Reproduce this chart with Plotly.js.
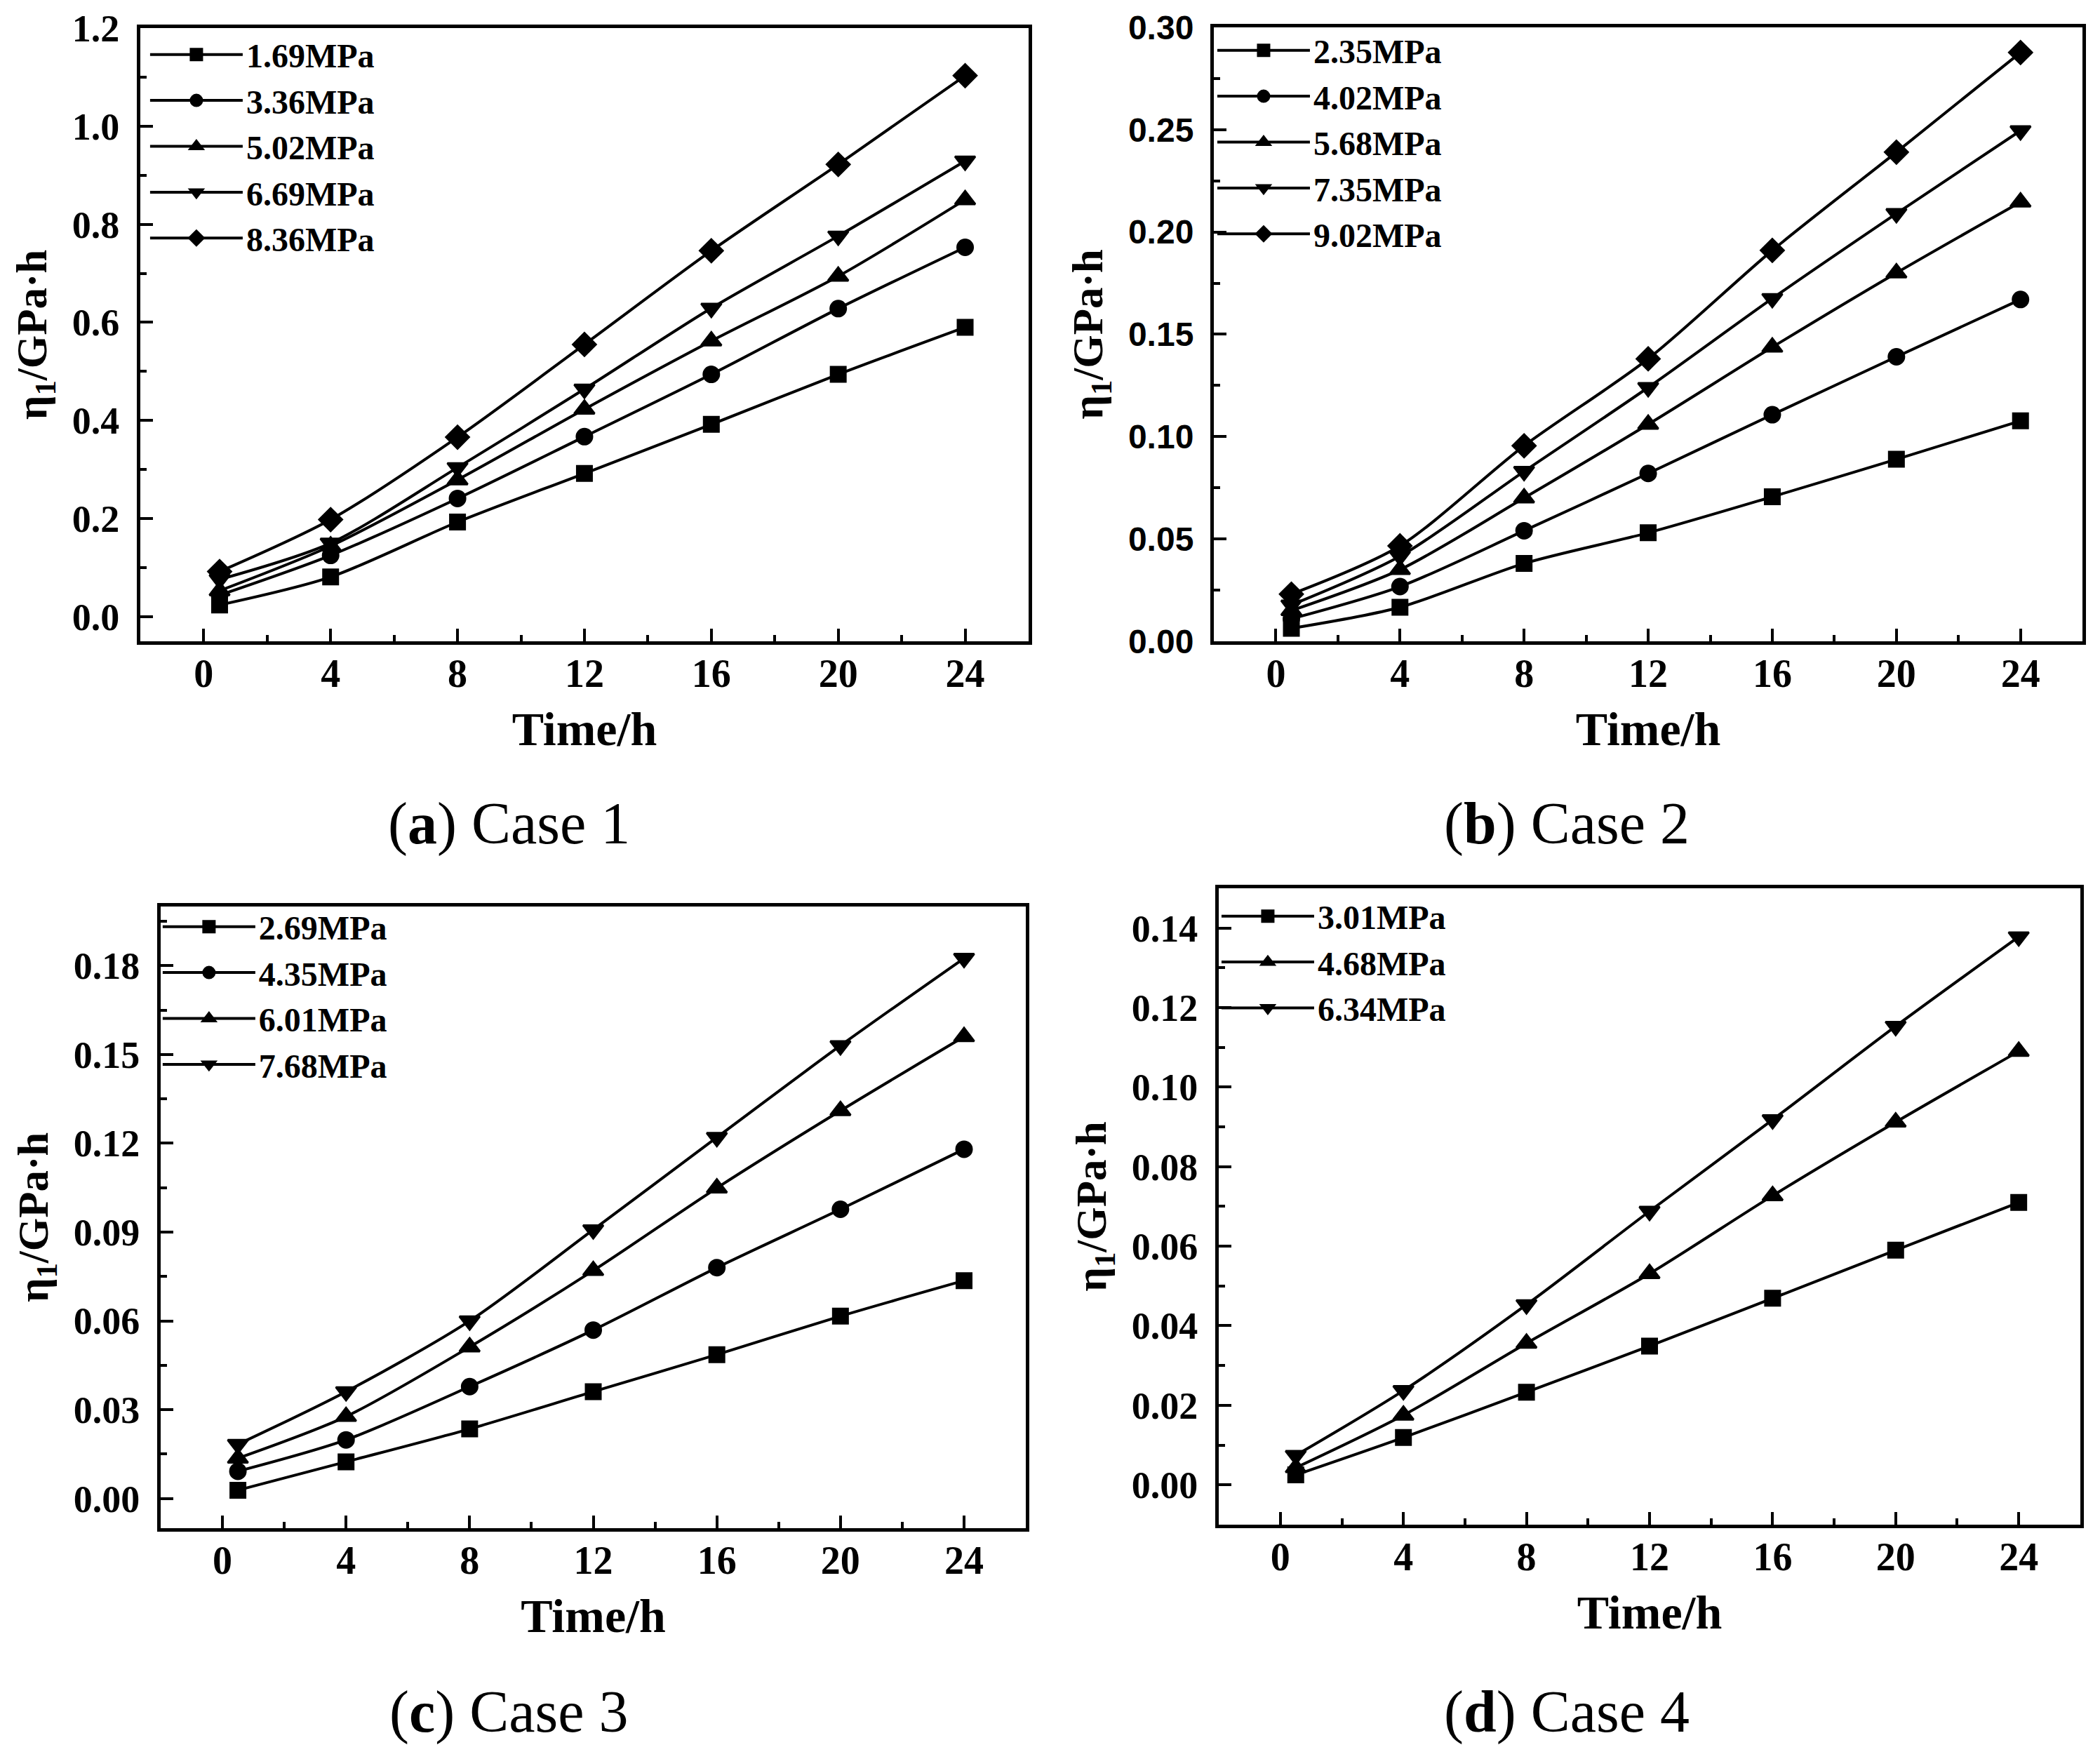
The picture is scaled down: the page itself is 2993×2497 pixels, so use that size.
<!DOCTYPE html>
<html>
<head>
<meta charset="utf-8">
<script src="https://cdn.plot.ly/plotly-3.0.1.min.js"></script>
<style>
  html, body { margin: 0; padding: 0; background: #fff; }
  #chart { width: 2993px; height: 2497px; }
</style>
</head>
<body>
<div id="chart"></div>
<script>
// Sampling times (h), shared by all four cases
const TIME_H = [0.5, 4, 8, 12, 16, 20, 24];

// Case 1 - viscosity coefficient eta1 (GPa·h) per stress level
const case1Labels = ['1.69MPa', '3.36MPa', '5.02MPa', '6.69MPa', '8.36MPa'];
const case1_169 = [0.024, 0.081, 0.193, 0.292, 0.392, 0.494, 0.590];
const case1_336 = [0.044, 0.125, 0.241, 0.367, 0.494, 0.628, 0.753];
const case1_502 = [0.053, 0.144, 0.279, 0.423, 0.562, 0.694, 0.850];
const case1_669 = [0.076, 0.150, 0.304, 0.464, 0.629, 0.776, 0.929];
const case1_836 = [0.092, 0.198, 0.366, 0.555, 0.746, 0.922, 1.103];

// Case 2
const case2Labels = ['2.35MPa', '4.02MPa', '5.68MPa', '7.35MPa', '9.02MPa'];
const case2_235 = [0.0063, 0.0166, 0.0380, 0.0530, 0.0706, 0.0889, 0.1077];
const case2_402 = [0.0110, 0.0267, 0.0540, 0.0820, 0.1107, 0.1390, 0.1670];
const case2_568 = [0.0150, 0.0350, 0.0700, 0.1060, 0.1437, 0.1800, 0.2146];
const case2_735 = [0.0177, 0.0415, 0.0830, 0.1240, 0.1675, 0.2090, 0.2495];
const case2_902 = [0.0230, 0.0466, 0.0955, 0.1380, 0.1910, 0.2390, 0.2877];

// Case 3
const case3Labels = ['2.69MPa', '4.35MPa', '6.01MPa', '7.68MPa'];
const case3_269 = [0.0028, 0.0124, 0.0235, 0.0361, 0.0486, 0.0616, 0.0736];
const case3_435 = [0.0092, 0.0198, 0.0378, 0.0569, 0.0780, 0.0977, 0.1180];
const case3_601 = [0.0136, 0.0277, 0.0512, 0.0770, 0.1049, 0.1310, 0.1560];
const case3_768 = [0.0183, 0.0361, 0.0600, 0.0908, 0.1220, 0.1530, 0.1825];

// Case 4
const case4Labels = ['3.01MPa', '4.68MPa', '6.34MPa'];
const case4_301 = [0.0025, 0.0119, 0.0233, 0.0349, 0.0469, 0.0590, 0.0710];
const case4_468 = [0.0043, 0.0175, 0.0356, 0.0531, 0.0727, 0.0912, 0.1090];
const case4_634 = [0.0074, 0.0237, 0.0453, 0.0688, 0.0918, 0.1153, 0.1378];

const SERIF = 'Liberation Serif, Times New Roman, serif';
const SANS = 'Liberation Sans, Arial, sans-serif';
const INK = '#000000';

// Triangles render smaller than squares at the same size, so bump them
const MARKER_SIZE = {
  'square': 21,
  'circle': 22,
  'triangle-up': 25,
  'triangle-down': 25,
  'diamond': 25,
};

/**
 * One line+marker series bound to subplot n (1..4)
 */
function makeTrace(y, name, symbol, n) {
  const sfx = n === 1 ? '' : String(n);
  return {
    x: TIME_H,
    y: y,
    name: name,
    type: 'scatter',
    mode: 'lines+markers',
    xaxis: 'x' + sfx,
    yaxis: 'y' + sfx,
    legend: 'legend' + sfx,
    line: { color: INK, width: 4, shape: 'spline', smoothing: 0.8 },
    marker: {
      symbol: symbol,
      size: MARKER_SIZE[symbol],
      color: INK,
      line: { color: INK, width: 3 },
    },
    cliponaxis: false,
  };
}

function xAxis(domain, anchor) {
  return {
    domain: domain,
    anchor: anchor,
    range: [-2, 26],
    tick0: 0,
    dtick: 4,
    ticks: 'inside',
    ticklen: 18,
    tickwidth: 4,
    tickcolor: INK,
    minor: { tick0: 0, dtick: 2, ticks: 'inside', ticklen: 9, tickwidth: 4, tickcolor: INK },
    showline: true,
    linewidth: 5,
    linecolor: INK,
    mirror: true,
    showgrid: false,
    zeroline: false,
    automargin: false,
    ticklabelstandoff: -7,
    tickfont: { family: SERIF, size: 56, color: INK, weight: 'bold' },
    title: {
      text: 'Time/h',
      font: { family: SERIF, size: 68, color: INK, weight: 'bold' },
      standoff: 26,
    },
  };
}

function yAxis(domain, anchor, range, dtick, fmt, fontFamily, fontSize) {
  return {
    domain: domain,
    anchor: anchor,
    range: range,
    tick0: 0,
    dtick: dtick,
    tickformat: fmt,
    ticks: 'inside',
    ticklen: 18,
    tickwidth: 4,
    tickcolor: INK,
    minor: { tick0: 0, dtick: dtick / 2, ticks: 'inside', ticklen: 9, tickwidth: 4, tickcolor: INK },
    showline: true,
    linewidth: 5,
    linecolor: INK,
    mirror: true,
    showgrid: false,
    zeroline: false,
    automargin: false,
    ticklabelstandoff: 14,
    tickfont: { family: fontFamily, size: fontSize, color: INK, weight: 'bold' },
    title: {
      text: 'η<sub>1</sub>/GPa·h',
      font: { family: SERIF, size: 61, color: INK, weight: 'bold' },
      standoff: 18,
    },
  };
}

function legendAt(x, y) {
  return {
    x: x,
    y: y,
    xanchor: 'left',
    yanchor: 'top',
    bgcolor: 'rgba(0,0,0,0)',
    borderwidth: 0,
    itemwidth: 132,
    tracegroupgap: 0,
    font: { family: SERIF, size: 48, color: INK, weight: 'bold' },
  };
}

function caption(letter, label, x, y) {
  return {
    text: '(<b>' + letter + '</b>) ' + label,
    xref: 'paper',
    yref: 'paper',
    x: x,
    y: y,
    xanchor: 'center',
    yanchor: 'middle',
    showarrow: false,
    font: { family: SERIF, size: 84, color: INK },
  };
}

const data = [
  makeTrace(case1_169, case1Labels[0], 'square', 1),
  makeTrace(case1_336, case1Labels[1], 'circle', 1),
  makeTrace(case1_502, case1Labels[2], 'triangle-up', 1),
  makeTrace(case1_669, case1Labels[3], 'triangle-down', 1),
  makeTrace(case1_836, case1Labels[4], 'diamond', 1),

  makeTrace(case2_235, case2Labels[0], 'square', 2),
  makeTrace(case2_402, case2Labels[1], 'circle', 2),
  makeTrace(case2_568, case2Labels[2], 'triangle-up', 2),
  makeTrace(case2_735, case2Labels[3], 'triangle-down', 2),
  makeTrace(case2_902, case2Labels[4], 'diamond', 2),

  makeTrace(case3_269, case3Labels[0], 'square', 3),
  makeTrace(case3_435, case3Labels[1], 'circle', 3),
  makeTrace(case3_601, case3Labels[2], 'triangle-up', 3),
  makeTrace(case3_768, case3Labels[3], 'triangle-down', 3),

  makeTrace(case4_301, case4Labels[0], 'square', 4),
  makeTrace(case4_468, case4Labels[1], 'triangle-up', 4),
  makeTrace(case4_634, case4Labels[2], 'triangle-down', 4),
];

const layout = {
  width: 2993,
  height: 2497,
  margin: { l: 0, r: 0, t: 0, b: 0, pad: 0 },
  paper_bgcolor: '#ffffff',
  plot_bgcolor: '#ffffff',
  showlegend: true,

  xaxis: xAxis([0.0668, 0.4898], 'y'),
  yaxis: yAxis([0.6340, 0.9840], 'x', [-0.05, 1.2], 0.2, '.1f', SERIF, 54),

  xaxis2: xAxis([0.5780, 0.9917], 'y2'),
  yaxis2: yAxis([0.6340, 0.9844], 'x2', [0, 0.30], 0.05, '.2f', SANS, 48),

  xaxis3: xAxis([0.0765, 0.4885], 'y3'),
  yaxis3: yAxis([0.1278, 0.4826], 'x3', [-0.01, 0.2], 0.03, '.2f', SERIF, 54),

  xaxis4: xAxis([0.5804, 0.9906], 'y4'),
  yaxis4: yAxis([0.1298, 0.4930], 'x4', [-0.01, 0.15], 0.02, '.2f', SERIF, 54),

  legend: legendAt(0.0698, 1 - 40 / 2497),
  legend2: legendAt(0.5780, 1 - 34 / 2497),
  legend3: legendAt(0.0758, 1 - 1283 / 2497),
  legend4: legendAt(0.5800, 1 - 1268 / 2497),

  annotations: [
    caption('a', 'Case 1', 725 / 2993, 1 - 1174 / 2497),
    caption('b', 'Case 2', 2233 / 2993, 1 - 1174 / 2497),
    caption('c', 'Case 3', 725 / 2993, 1 - 2440 / 2497),
    caption('d', 'Case 4', 2233 / 2993, 1 - 2440 / 2497),
  ],
};

Plotly.newPlot('chart', data, layout, { displayModeBar: false, staticPlot: true });
</script>
</body>
</html>
